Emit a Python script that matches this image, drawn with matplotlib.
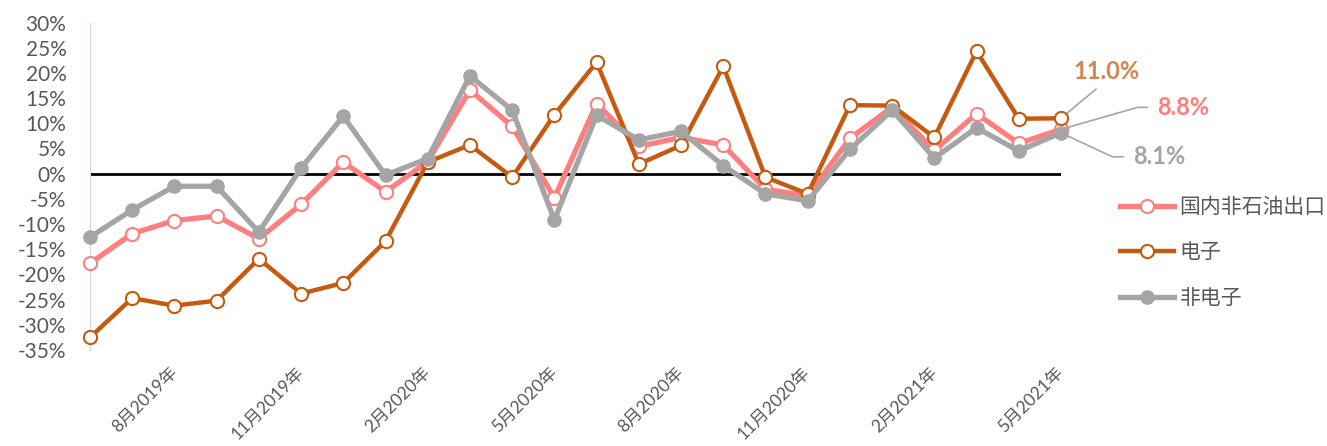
import matplotlib
matplotlib.use("Agg")
import matplotlib.pyplot as plt
from matplotlib.ticker import FixedLocator, FuncFormatter

plt.rcParams['font.family'] = ['Lato', 'Noto Sans CJK SC', 'DejaVu Sans']

# ---- data (Jun 2019 .. May 2021, YoY %) ----
months = ["6月2019年", "7月2019年", "8月2019年", "9月2019年", "10月2019年", "11月2019年",
          "12月2019年", "1月2020年", "2月2020年", "3月2020年", "4月2020年", "5月2020年",
          "6月2020年", "7月2020年", "8月2020年", "9月2020年", "10月2020年", "11月2020年",
          "12月2020年", "1月2021年", "2月2021年", "3月2021年", "4月2021年", "5月2021年"]

non_oil = [-17.8, -11.9, -9.3, -8.4, -12.9, -6.1, 2.3, -3.6, 2.4, 16.6, 9.4, -4.8,
           13.9, 5.4, 7.2, 5.7, -3.1, -4.4, 7.0, 13.2, 4.6, 11.9, 6.0, 8.8]
electronics = [-32.5, -24.7, -26.2, -25.2, -16.9, -23.8, -21.7, -13.4, 2.3, 5.7, -0.7, 11.7,
               22.1, 1.9, 5.6, 21.3, -0.7, -4.0, 13.6, 13.5, 7.2, 24.3, 10.9, 11.0]
non_electronics = [-12.6, -7.2, -2.5, -2.5, -11.6, 1.1, 11.4, -0.3, 3.0, 19.4, 12.6, -9.2,
                   11.6, 6.7, 8.4, 1.6, -4.0, -5.4, 4.8, 12.6, 3.1, 9.1, 4.5, 8.1]

series_names = ["国内非石油出口", "电子", "非电子"]
yticks = list(range(-35, 31, 5))
label_every = 3
label_start = 2

PINK = "#FF7F7F"
ORANGE = "#C55A11"
GRAY = "#A5A5A5"
TXT = "#595959"

W, H = 1327, 446
fig = plt.figure(figsize=(W / 100, H / 100), dpi=100)
ax = fig.add_axes([90 / W, 1 - 350 / H, (1061 - 90) / W, (350 - 22.5) / H])

x = list(range(len(months)))

ax.axhline(0, color="black", lw=2, zorder=1.5)

l1, = ax.plot(x, non_oil, color=PINK, lw=3.8, marker="o", ms=9.5,
              mfc="white", mec=PINK, mew=1.5, clip_on=False, zorder=3)
l2, = ax.plot(x, electronics, color=ORANGE, lw=3.2, marker="o", ms=9.5,
              mfc="white", mec=ORANGE, mew=1.5, clip_on=False, zorder=4)
l3, = ax.plot(x, non_electronics, color=GRAY, lw=3.8, marker="o", ms=9.5,
              mfc=GRAY, mec=GRAY, clip_on=False, zorder=5)

ax.set_xlim(0, len(months) - 1)
ax.set_ylim(yticks[0], yticks[-1])

ax.yaxis.set_major_locator(FixedLocator(yticks))
ax.yaxis.set_major_formatter(FuncFormatter(lambda v, p: f"{int(v)}%"))
ax.tick_params(axis="y", length=0, pad=17, labelsize=15, labelcolor=TXT)

tick_idx = list(range(label_start, len(months), label_every))
ax.set_xticks(tick_idx)
ax.set_xticklabels([months[i] for i in tick_idx], rotation=45, ha="right",
                   va="center", rotation_mode="anchor")
ax.tick_params(axis="x", length=0, pad=14, labelsize=12.5, labelcolor=TXT)

for s in ["top", "right", "bottom"]:
    ax.spines[s].set_visible(False)
ax.spines["left"].set_color("#C5D9F1")
ax.spines["left"].set_linewidth(0.8)

# legend
leg = ax.legend([l1, l2, l3], series_names, loc="upper left",
                bbox_to_anchor=(1120 / W, 1 - 197 / H), bbox_transform=fig.transFigure,
                frameon=False, fontsize=15, handlelength=2.6, handletextpad=0.25,
                labelspacing=1.22, borderpad=0, borderaxespad=0, numpoints=1)
for t in leg.get_texts():
    t.set_color(TXT)

# end labels
last = len(months) - 1
ax.annotate(f"{electronics[-1]:.1f}%", xy=(last, electronics[-1]),
            xytext=(46, 47), textcoords="offset pixels", ha="center", va="center",
            fontsize=17, fontweight="bold", color="#D4844F",
            arrowprops=dict(arrowstyle="-", color="#A5A5A5", lw=1.2,
                            relpos=(0.45, 0), shrinkA=4, shrinkB=2))
ax.annotate(f"{non_oil[-1]:.1f}%", xy=(last, non_oil[-1]),
            xytext=(96, 22), textcoords="offset pixels", ha="left", va="center",
            fontsize=17, fontweight="bold", color=PINK,
            arrowprops=dict(arrowstyle="-", color="#A5A5A5", lw=1.2,
                            relpos=(0, 0.5), shrinkA=5, shrinkB=2,
                            connectionstyle="angle,angleA=0,angleB=16,rad=0"))
ax.annotate(f"{non_electronics[-1]:.1f}%", xy=(last, non_electronics[-1]),
            xytext=(72, -24), textcoords="offset pixels", ha="left", va="center",
            fontsize=17, fontweight="bold", color=GRAY,
            arrowprops=dict(arrowstyle="-", color="#A5A5A5", lw=1.2,
                            relpos=(0, 0.5), shrinkA=5, shrinkB=2,
                            connectionstyle="angle,angleA=0,angleB=-25,rad=0"))

fig.savefig("out.png", dpi=100)
